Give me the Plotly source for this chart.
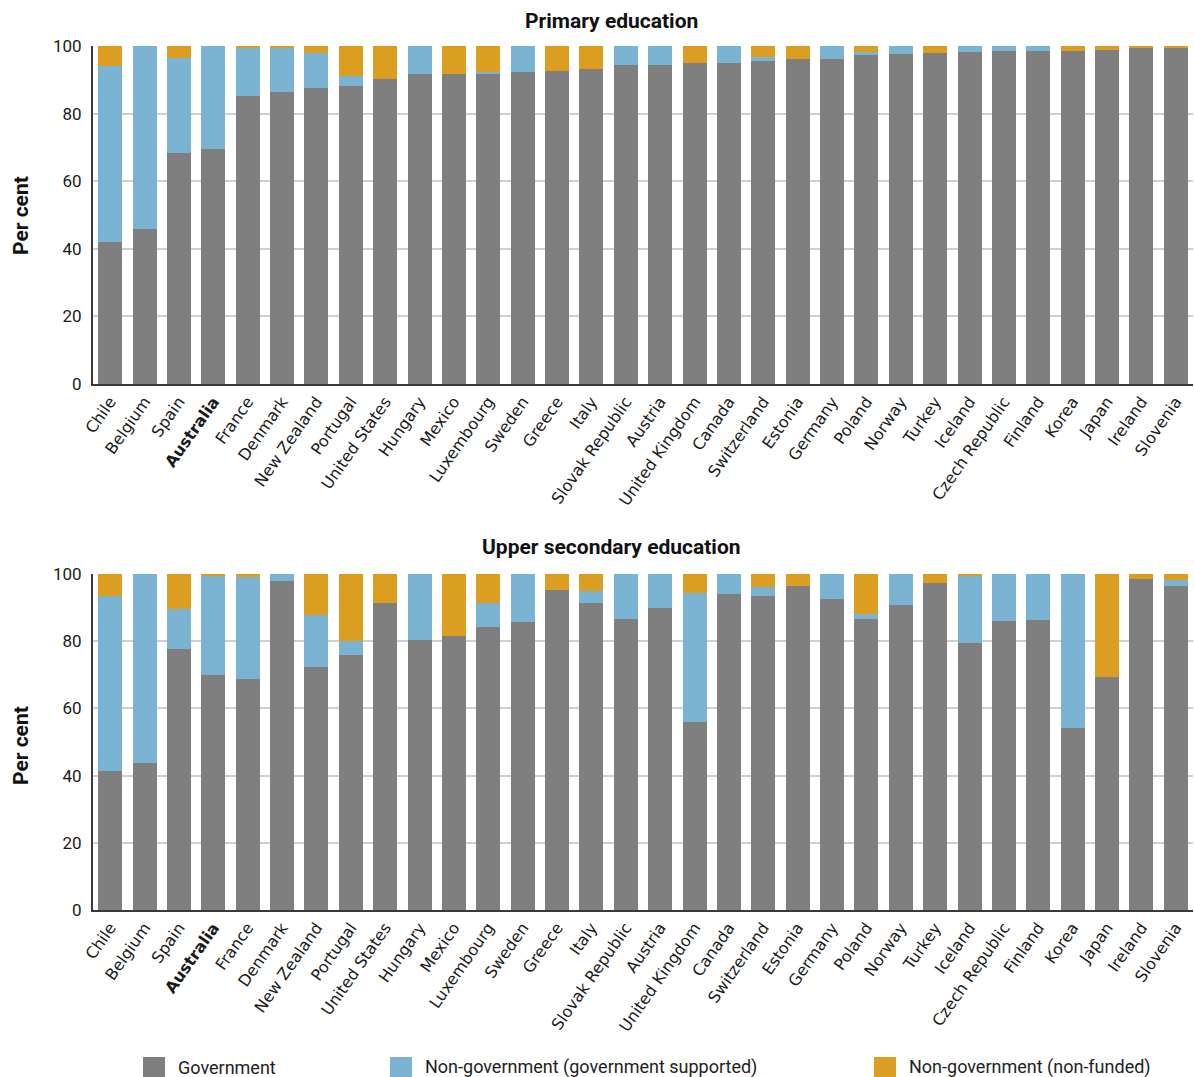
import plotly.graph_objects as go

countries = ["Chile", "Belgium", "Spain", "Australia", "France", "Denmark", "New Zealand",
             "Portugal", "United States", "Hungary", "Mexico", "Luxembourg", "Sweden", "Greece",
             "Italy", "Slovak Republic", "Austria", "United Kingdom", "Canada", "Switzerland",
             "Estonia", "Germany", "Poland", "Norway", "Turkey", "Iceland", "Czech Republic",
             "Finland", "Korea", "Japan", "Ireland", "Slovenia"]
tick_labels = ["<b>Australia</b>" if c == "Australia" else c for c in countries]

series_names = ["Government", "Non-government (government supported)", "Non-government (non-funded)"]
series_colors = ["#7f7f7f", "#7bb3d3", "#dc9e21"]

primary_gov = [42.1, 46.0, 68.4, 69.6, 85.2, 86.4, 87.6, 88.2, 90.3, 91.7, 91.7, 91.7, 92.3, 92.6,
               93.2, 94.4, 94.4, 95.0, 95.0, 95.6, 96.2, 96.2, 97.3, 97.6, 97.9, 98.2, 98.5, 98.5,
               98.5, 98.8, 99.7, 99.7]
primary_supp = [52.1, 54.0, 28.1, 30.4, 14.3, 13.3, 10.3, 3.0, 0, 8.3, 0, 0.7, 7.7, 0,
                0, 5.6, 5.6, 0, 5.0, 1.1, 0, 3.8, 0.9, 2.4, 0, 1.8, 1.5, 1.5,
                0, 0, 0, 0]
primary_nf = [5.8, 0, 3.5, 0, 0.5, 0.3, 2.1, 8.8, 9.7, 0, 8.3, 7.6, 0, 7.4,
              6.8, 0, 0, 5.0, 0, 3.3, 3.8, 0, 1.8, 0, 2.1, 0, 0, 0,
              1.5, 1.2, 0.3, 0.3]

secondary_gov = [41.4, 43.8, 77.6, 69.9, 68.7, 97.8, 72.3, 75.8, 91.3, 80.3, 81.5, 84.2, 85.6, 95.2,
                 91.3, 86.5, 89.8, 56.0, 94.0, 93.4, 96.3, 92.5, 86.6, 90.8, 97.3, 79.4, 85.9, 86.2,
                 54.3, 69.4, 98.4, 96.3]
secondary_supp = [52.1, 56.2, 11.9, 29.7, 30.3, 2.2, 15.4, 4.2, 0, 19.7, 0, 7.1, 14.4, 0,
                  3.6, 13.5, 10.2, 38.2, 6.0, 2.6, 0, 7.5, 1.5, 9.2, 0, 20.2, 14.1, 13.8,
                  45.7, 0, 0, 1.8]
secondary_nf = [6.5, 0, 10.5, 0.4, 1.0, 0, 12.3, 20.0, 8.7, 0, 18.5, 8.7, 0, 4.8,
                5.1, 0, 0, 5.8, 0, 4.0, 3.7, 0, 11.9, 0, 2.7, 0.4, 0, 0,
                0, 30.6, 1.6, 1.9]

panel_titles = ["Primary education", "Upper secondary education"]
y_title = "Per cent"
y_ticks = [0, 20, 40, 60, 80, 100]

W, H = 1194, 1077


def px_x(v):
    return v / W


def px_y(v):
    return 1 - v / H


fig = go.Figure()

panels = [
    ("x", "y", [primary_gov, primary_supp, primary_nf]),
    ("x2", "y2", [secondary_gov, secondary_supp, secondary_nf]),
]
for xa, ya, data in panels:
    for name, color, vals in zip(series_names, series_colors, data):
        fig.add_trace(go.Bar(x=countries, y=vals, name=name, marker_color=color,
                             marker_line_width=0, xaxis=xa, yaxis=ya, showlegend=False))

tick_font = dict(family="DejaVu Sans", size=16, color="#1a1a1a")
ytick_font = dict(family="Roboto", size=17, color="#1a1a1a")

xdom = [px_x(93), px_x(1193)]
common_x = dict(type="category", tickmode="array", tickvals=countries, ticktext=tick_labels,
                tickangle=-55, tickfont=tick_font, showline=True, linecolor="#3a3a3a",
                linewidth=2, showgrid=False, ticks="", domain=xdom, fixedrange=True,
                automargin=False)
common_y = dict(range=[0, 100], tickvals=y_ticks, tickfont=ytick_font, showline=True,
                linecolor="#3a3a3a", linewidth=2, showgrid=True, gridcolor="#d0d0d0",
                gridwidth=2, zeroline=False, ticks="", ticklabelstandoff=6, fixedrange=True,
                automargin=False)

fig.update_layout(
    width=W, height=H,
    margin=dict(l=0, r=0, t=0, b=0),
    paper_bgcolor="white", plot_bgcolor="white",
    barmode="stack", bargap=0.3,
    xaxis=dict(common_x, anchor="y"),
    yaxis=dict(common_y, domain=[px_y(384), px_y(46)], anchor="x"),
    xaxis2=dict(common_x, anchor="y2"),
    yaxis2=dict(common_y, domain=[px_y(910), px_y(574)], anchor="x2"),
)

annotations = []
for title, ty in zip(panel_titles, [21, 547]):
    annotations.append(dict(text="<b>%s</b>" % title, x=px_x(611), y=px_y(ty), xref="paper",
                            yref="paper", showarrow=False, xanchor="center", yanchor="middle",
                            font=dict(family="Roboto", size=21, color="#111111")))
for cy in [216, 746]:
    annotations.append(dict(text="<b>%s</b>" % y_title, x=px_x(21), y=px_y(cy), xref="paper",
                            yref="paper", showarrow=False, textangle=-90, xanchor="center",
                            yanchor="middle", font=dict(family="Roboto", size=21, color="#111111")))

# legend
legend_x = [143, 390, 874]
shapes = []
for lx, name, color in zip(legend_x, series_names, series_colors):
    shapes.append(dict(type="rect", xref="paper", yref="paper", x0=px_x(lx), x1=px_x(lx + 22),
                       y0=px_y(1077), y1=px_y(1057), fillcolor=color, line_width=0))
    annotations.append(dict(text=name, x=px_x(lx + 33), y=px_y(1067), xref="paper", yref="paper",
                            showarrow=False, xanchor="left", yanchor="middle",
                            font=dict(family="Roboto", size=18, color="#222222")))

fig.update_layout(annotations=annotations, shapes=shapes)

fig.write_html("out.html", config={"displayModeBar": False},
               post_script="document.body.style.margin='0';document.documentElement.style.overflow='hidden';")
